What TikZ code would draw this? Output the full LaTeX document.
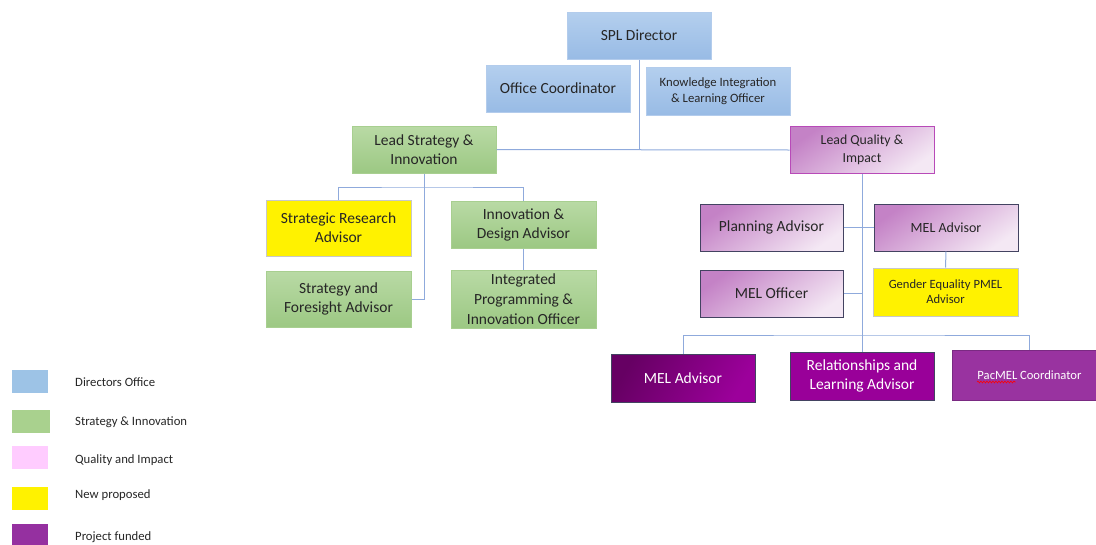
\documentclass[tikz,border=0pt]{standalone}
\usepackage{fontspec}
\setmainfont{Carlito}
\usetikzlibrary{decorations.pathmorphing,calc}
\definecolor{txt}{HTML}{262626}
\definecolor{conncol}{HTML}{8FAADC}
\definecolor{blueT}{HTML}{B4CFEE}
\definecolor{blueB}{HTML}{98BBE5}
\definecolor{blueD}{HTML}{B3CCEC}
\definecolor{greenT}{HTML}{B9DAA5}
\definecolor{greenB}{HTML}{9CC883}
\definecolor{greenD}{HTML}{A8CF90}
\definecolor{pinkT}{HTML}{C482C6}
\definecolor{pinkB}{HTML}{F4E8F4}
\definecolor{slate}{HTML}{434361}
\definecolor{magD}{HTML}{B84AB8}
\definecolor{yelD}{HTML}{C8C8C8}
\definecolor{dpT}{HTML}{660063}
\definecolor{dpB}{HTML}{9C009B}
\definecolor{relF}{HTML}{990099}
\definecolor{pacF}{HTML}{9933A0}
\definecolor{pacD}{HTML}{7A2A82}
\definecolor{lgBlue}{HTML}{9DC3E6}
\definecolor{lgGreen}{HTML}{A9D18E}
\definecolor{lgPink}{HTML}{FFCCFF}
\definecolor{lgPurple}{HTML}{9530A0}
\newcommand{\fsz}[2]{\fontsize{#1}{#2}\selectfont}
\begin{document}
\begin{tikzpicture}[x=1pt,y=-1pt,
  box/.style={draw, line width=1pt, minimum width=144, minimum height=47, inner sep=2pt, align=center, text=txt, font=\fsz{15.5}{19}},
  bluebox/.style={box, top color=blueT, bottom color=blueB, draw=blueD},
  greenbox/.style={box, top color=greenT, bottom color=greenB, draw=greenD},
  pinkbox/.style={box, top color=pinkT, bottom color=pinkB, shading angle=35, draw=slate},
  yellowbox/.style={box, fill=yellow, draw=yelD},
  darkbox/.style={box, text=white, draw=slate},
  conn/.style={draw=conncol, line width=1pt},
  legbox/.style={minimum width=36, minimum height=23, inner sep=0pt},
  legtext/.style={anchor=west, inner sep=0pt, text=txt, font=\fsz{12.7}{14}}
]
\useasboundingbox (0,0) rectangle (1096,544);

% Directors office
\node[bluebox] (spl) at (639,35.5) {SPL Director};
\node[bluebox] (oc) at (558,88.5) {Office Coordinator};
\node[bluebox, font=\fsz{12.7}{16}, minimum height=48] (kil) at (718,91) {Knowledge Integration\\\& Learning Officer};

% Strategy & Innovation
\node[greenbox] (ls) at (424,149.5) {Lead Strategy \&\\Innovation};
\node[yellowbox, minimum width=145, minimum height=56] (sra) at (338.5,228) {Strategic Research\\Advisor};
\node[greenbox, minimum width=145, minimum height=56] (sfa) at (338.5,299) {Strategy and\\Foresight Advisor};
\node[greenbox, minimum width=145] (ida) at (523.5,224.5) {Innovation \&\\Design Advisor};
\node[greenbox, minimum width=145, minimum height=58, font=\fsz{15.5}{20}] (ipo) at (523.5,299) {Integrated\\Programming \&\\Innovation Officer};

% Quality & Impact
\node[pinkbox, draw=magD, font=\fsz{13.8}{18}] (lq) at (862,150) {Lead Quality \&\\Impact};
\node[pinkbox, minimum width=143] (pa) at (771.5,227.5) {Planning Advisor};
\node[pinkbox, font=\fsz{14}{16}] (mela) at (946,227.5) {MEL Advisor};
\node[pinkbox, minimum width=143] (melo) at (771.5,293.5) {MEL Officer};
\node[yellowbox, minimum width=145, minimum height=48, font=\fsz{12.6}{15}] (ge) at (945.5,292) {Gender Equality PMEL\\Advisor};

% Project funded
\node[darkbox, top color=dpT, bottom color=dpB, shading angle=60, minimum height=48] (mel2) at (683,378) {MEL Advisor};
\node[darkbox, fill=relF, minimum height=48] (rel) at (862,376) {Relationships and\\Learning Advisor};
\node[darkbox, fill=pacF, draw=pacD, minimum width=155, minimum height=50, font=\fsz{12.6}{16}] (pac) at (1029.5,375) {PacMEL Coordinator};
\draw[red, line width=0.6pt, decorate, decoration={snake, amplitude=0.9pt, segment length=3pt}]
  ($(pac.center)+(-52.5,7)$) -- ($(pac.center)+(-14,7)$);

% connectors
\coordinate (sbus) at (424,187);
\coordinate (qbus) at (862,335);
\draw[conn] (spl.south) -- (spl.south |- ls.east);
\draw[conn] (ls.east) -- (lq.west);
\draw[conn] (sra.north) |- (sbus) -| (ida.north);
\draw[conn] (ls.south) |- (sfa.east);
\draw[conn] (ida.south) -- (ipo.north);
\draw[conn] (lq.south) -- (qbus);
\draw[conn] (mel2.north) |- (qbus) -| (pac.north);
\draw[conn] (rel.north) -- (qbus);
\draw[conn] (pa.east) -- (mela.west);
\draw[conn] (melo.east) -- (melo.east -| lq.south);
\draw[conn] (mela.south) -- (ge.north);

% legend
\node[legbox, fill=lgBlue] (l1) at (30,381.5) {};
\node[legbox, fill=lgGreen, minimum width=38] (l2) at (31,421.5) {};
\node[legbox, fill=lgPink] (l3) at (30,457.5) {};
\node[legbox, fill=yellow] (l4) at (30,498) {};
\node[legbox, fill=lgPurple] (l5) at (30,535) {};
\node[legtext] (t1) at (75,382) {Directors Office};
\node[legtext] (t2) at (75,422) {Strategy \& Innovation};
\node[legtext] (t3) at (75,460) {Quality and Impact};
\node[legtext] (t4) at (75,495) {New proposed};
\node[legtext] (t5) at (75,537) {Project funded};
\end{tikzpicture}
\end{document}
